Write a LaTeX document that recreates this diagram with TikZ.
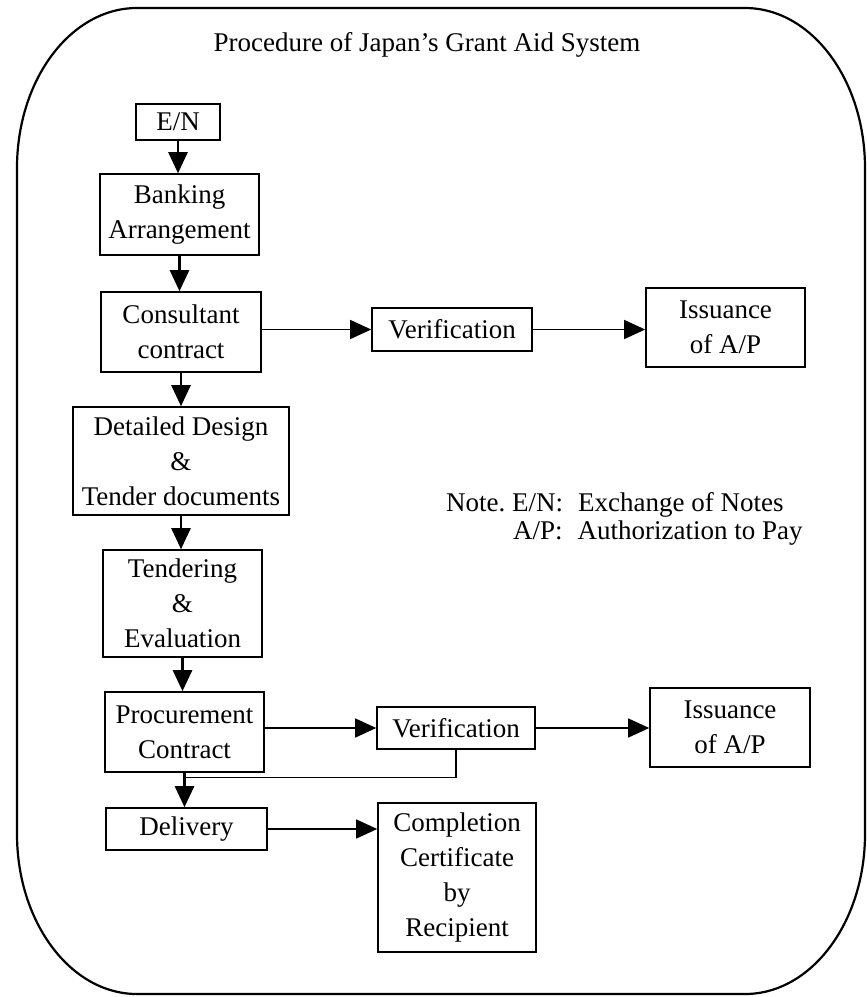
\documentclass[tikz,border=0pt]{standalone}
\usepackage{fontspec}
\setmainfont{Liberation Serif}
\usetikzlibrary{arrows.meta,calc}
\begin{document}
\begin{tikzpicture}[x=1pt,y=-1pt,
  box/.style={draw,line width=1.6pt,align=center,inner sep=0pt,font=\fontsize{27}{35}\selectfont},
  txt/.style={inner sep=0pt,font=\fontsize{27}{32}\selectfont},
  vflow/.style={line width=2.6pt,-{Triangle[length=21pt,width=19pt]}},
  hflow/.style={line width=1.3pt,-{Triangle[length=21pt,width=19pt]}},
  plain/.style={line width=1.3pt},
  frame/.style={line width=2.2pt}
]
\useasboundingbox (0,0) rectangle (867,997);
\draw[frame] (137,8) -- (745,8)
  arc[start angle=-90, end angle=0, x radius=120, y radius=160]
  -- (865,834)
  arc[start angle=0, end angle=90, x radius=120, y radius=160]
  -- (137,994)
  arc[start angle=90, end angle=180, x radius=120, y radius=160]
  -- (17,168)
  arc[start angle=180, end angle=270, x radius=120, y radius=160]
  -- cycle;

\node[txt] (title) at (427,45) {Procedure of Japan's Grant Aid System};

\node[box, minimum width=84pt, minimum height=36pt] (en) at (178,122) {E/N};
\node[box, minimum width=159pt, minimum height=81pt] (bank) at (179.5,214.5) {Banking\\Arrangement};
\node[box, minimum width=160pt, minimum height=80pt] (cons) at (181,332) {Consultant\\contract};
\node[box, minimum width=160pt, minimum height=43pt] (ver1) at (452,329.5) {Verification};
\node[box, minimum width=159pt, minimum height=79pt] (iss1) at (725.5,327.5) {Issuance\\of A/P};
\node[box, minimum width=216pt, minimum height=108pt] (dd) at (181,461) {Detailed Design\\\&\\Tender documents};
\node[box, minimum width=159pt, minimum height=107pt] (tend) at (182.5,603.5) {Tendering\\\&\\Evaluation};
\node[box, minimum width=159pt, minimum height=80pt] (proc) at (184.5,732) {Procurement\\Contract};
\node[box, minimum width=158pt, minimum height=42pt] (ver2) at (456,728) {Verification};
\node[box, minimum width=160pt, minimum height=79pt] (iss2) at (730,727.5) {Issuance\\of A/P};
\node[box, minimum width=161pt, minimum height=42pt] (deliv) at (186.5,829) {Delivery};
\node[box, minimum width=158pt, minimum height=149pt] (comp) at (457,877.5) {Completion\\Certificate\\by\\Recipient};

\node[txt, anchor=base west] (note1) at (446,511) {Note.\ E/N:\hspace{15pt}Exchange of Notes};
\node[txt, anchor=base west] (note2) at (513,539) {A/P:\hspace{15pt}Authorization to Pay};

\draw[vflow] (en.south) -- (en.south |- bank.north);
\draw[vflow] (bank.south) -- (bank.south |- cons.north);
\draw[vflow] (cons.south) -- (cons.south |- dd.north);
\draw[vflow] (dd.south) -- (dd.south |- tend.north);
\draw[vflow] (tend.south) -- (tend.south |- proc.north);
\draw[vflow] (proc.south) -- (proc.south |- deliv.north);

\draw[hflow] (cons.east |- ver1.west) -- (ver1.west);
\draw[hflow] (ver1.east) -- (ver1.east -| iss1.west);
\draw[hflow] (proc.east |- ver2.west) -- (ver2.west);
\draw[hflow] (ver2.east) -- (ver2.east -| iss2.west);
\draw[hflow] (deliv.east) -- (deliv.east -| comp.west);

\coordinate (j) at ($(proc.south)+(0,5)$);
\draw[plain] (ver2.south) |- (j);
\end{tikzpicture}
\end{document}
